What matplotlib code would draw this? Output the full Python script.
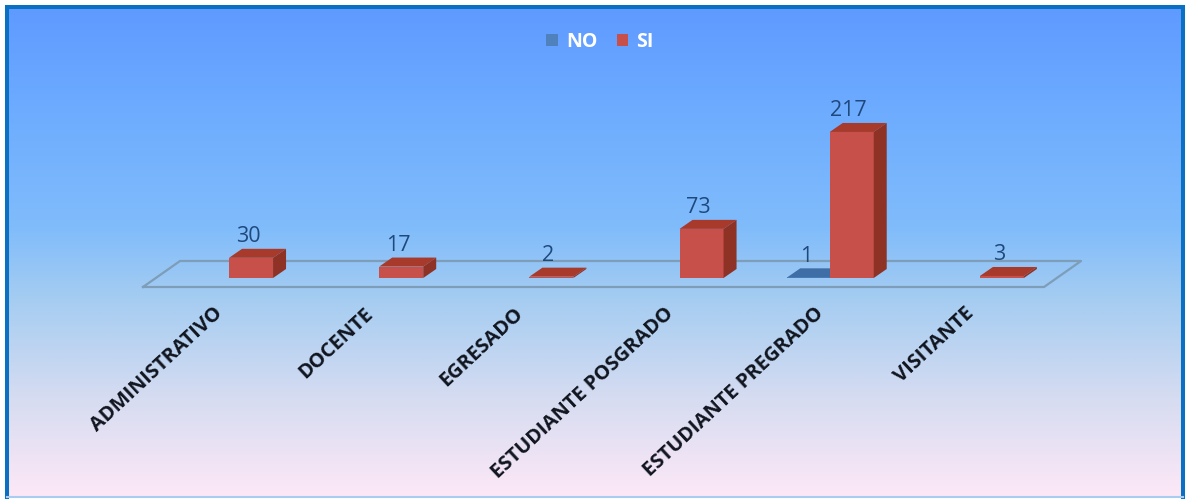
import matplotlib
matplotlib.use('Agg')
import matplotlib.pyplot as plt
from matplotlib.colors import LinearSegmentedColormap
from matplotlib.patches import Patch, Polygon
import numpy as np

categories = ['ADMINISTRATIVO', 'DOCENTE', 'EGRESADO', 'ESTUDIANTE POSGRADO',
              'ESTUDIANTE PREGRADO', 'VISITANTE']
no_values = [0, 0, 0, 0, 1, 0]
si_values = [30, 17, 2, 73, 217, 3]

W, H = 1186, 499
CAT_PX = 150.17      # pixels per category
VAL_PX = 0.673       # pixels per unit of value
LEFT_PX = 143        # front left corner of the floor
BASE_PX = 278        # pixel row of value 0

# bar depth and floor offsets, in data units
bar_dx, bar_dy = 13 / CAT_PX, 9 / VAL_PX
floor_dx, floor_dy = 37 / CAT_PX, 26 / VAL_PX
floor_front = -9 / VAL_PX

NO_COLORS = ('#4f81bd', '#3f6ea6', '#35608f')
SI_COLORS = ('#c8504a', '#a83a2c', '#8f3226')


def draw_bar(ax, x0, x1, value, colors):
    front, top, side = colors
    ax.add_patch(Polygon([(x0, 0), (x1, 0), (x1, value), (x0, value)],
                         fc=front, ec='none', zorder=3))
    ax.add_patch(Polygon([(x0, value), (x1, value), (x1 + bar_dx, value + bar_dy),
                          (x0 + bar_dx, value + bar_dy)], fc=top, ec='none', zorder=3))
    ax.add_patch(Polygon([(x1, 0), (x1 + bar_dx, bar_dy), (x1 + bar_dx, value + bar_dy),
                          (x1, value)], fc=side, ec='none', zorder=3))


fig = plt.figure(figsize=(W / 100, H / 100), dpi=100, facecolor='white')

# background panel with vertical gradient and blue frame
bg = fig.add_axes([7 / W, 1 - 497 / H, (1183 - 7) / W, (497 - 7) / H])
stops = [(0.0, '#5f9aff'), (0.2, '#6cabff'), (0.45, '#80bcfb'), (0.6, '#a6cdf1'),
         (0.8, '#d6dcf1'), (1.0, '#fde8f7')]
cmap = LinearSegmentedColormap.from_list('panel', stops)
bg.imshow(np.linspace(0, 1, 256).reshape(-1, 1), aspect='auto', cmap=cmap,
          extent=(0, 1, 0, 1), origin='upper')
bg.set_xticks([])
bg.set_yticks([])
for name, spine in bg.spines.items():
    spine.set_color('#0b6fc2')
    spine.set_linewidth(2.9)
bg.spines['bottom'].set_color('#a9cdf0')
bg.spines['bottom'].set_linewidth(1.5)

# chart axes span the whole figure, x in categories and y in values
ax = fig.add_axes([0, 0, 1, 1])
ax.patch.set_alpha(0)
ax.set_xlim(-LEFT_PX / CAT_PX, (W - LEFT_PX) / CAT_PX)
ax.set_ylim((BASE_PX - H) / VAL_PX, BASE_PX / VAL_PX)
ax.axis('off')

# floor outline
n = len(categories)
floor_x = [0, n, n + floor_dx, floor_dx, 0]
floor_y = [floor_front, floor_front, floor_front + floor_dy, floor_front + floor_dy, floor_front]
ax.plot(floor_x, floor_y, color='#7d9db8', lw=1.6, zorder=1)

for i, cat in enumerate(categories):
    if no_values[i]:
        draw_bar(ax, i + 0.29, i + 0.573, no_values[i], NO_COLORS)
        ax.text(i + 0.413, no_values[i] + 21 / VAL_PX, str(no_values[i]), ha='center',
                va='center', fontsize=15.5, color='#1f497d', family='Open Sans', zorder=4)
    draw_bar(ax, i + 0.573, i + 0.866, si_values[i], SI_COLORS)
    ax.text(i + 0.70, si_values[i] + 21 / VAL_PX, str(si_values[i]), ha='center', va='center',
            fontsize=15.5, color='#1f497d', family='Open Sans', zorder=4)
    ax.text(i + 0.515, -33 / VAL_PX, cat, rotation=43, rotation_mode='anchor', ha='right',
            va='center', fontsize=14.5, fontweight='bold', color='#10151f', family='Open Sans')

handles = [Patch(fc=NO_COLORS[0], label='NO'), Patch(fc=SI_COLORS[0], label='SI')]
leg = ax.legend(handles=handles, ncol=2, frameon=False, loc='center',
                bbox_to_anchor=(600 / W, 1 - 42 / H), handlelength=0.6, handleheight=0.6,
                handletextpad=0.4, columnspacing=1.0,
                prop={'family': 'Open Sans', 'weight': 'bold', 'size': 14})
for t in leg.get_texts():
    t.set_color('white')

fig.savefig('out.png', dpi=100)
